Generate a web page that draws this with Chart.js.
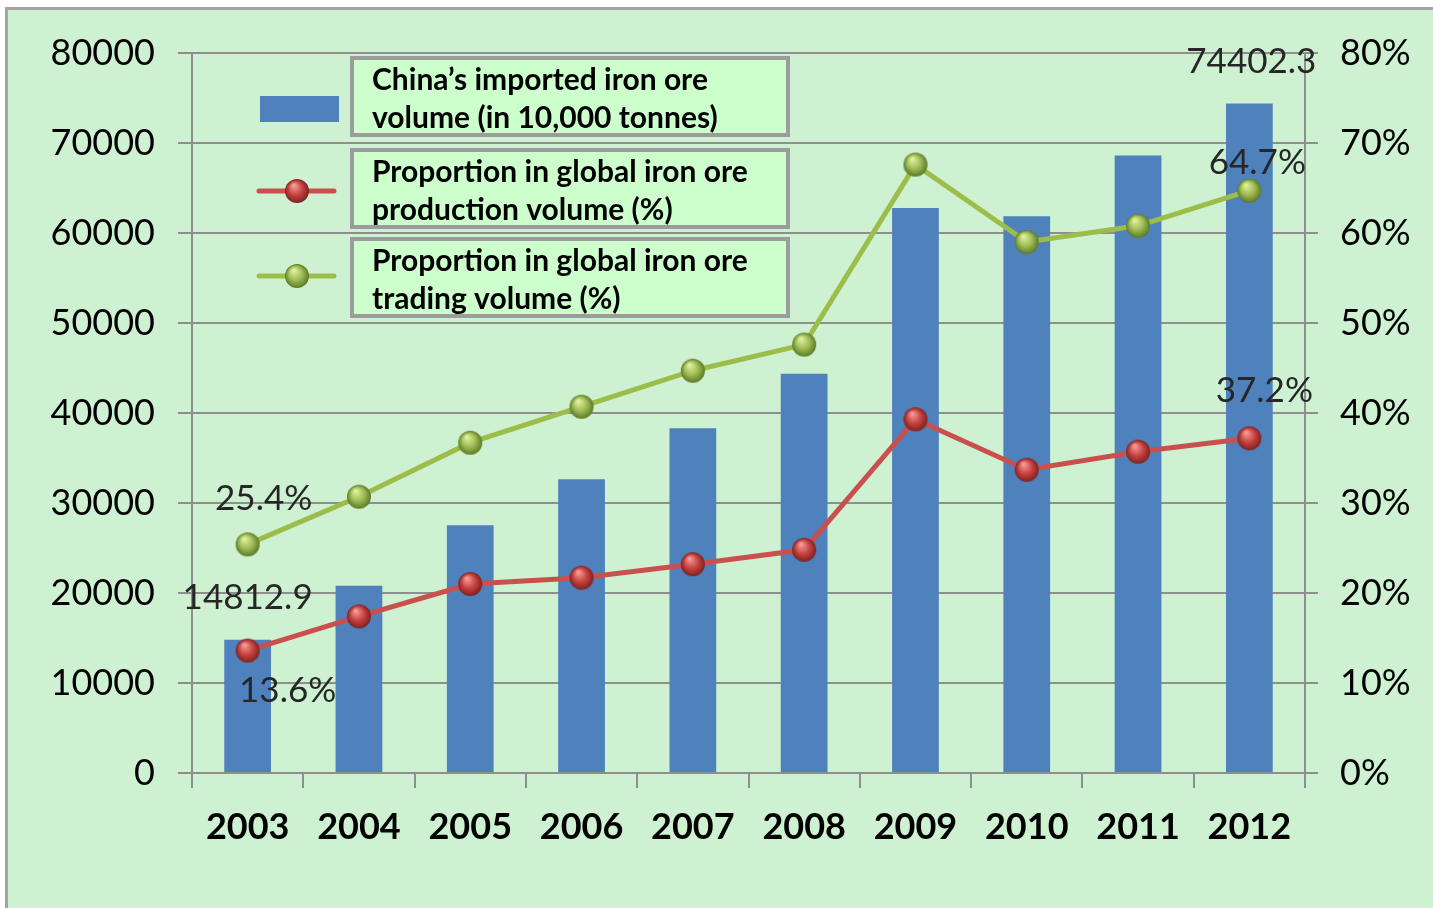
<!DOCTYPE html>
<html>
<head>
<meta charset="utf-8">
<title>China iron ore imports</title>
<script src="https://cdn.jsdelivr.net/npm/chart.js@4.4.0/dist/chart.umd.min.js"></script>
<style>
    html, body { margin: 0; padding: 0; background: #fff; overflow: hidden; }
    #frame {
        position: absolute; left: 5px; top: 7px; width: 1440px; height: 910px;
        border-left: 3px solid #a3a3a3; border-top: 3px solid #a3a3a3;
        background: #cef1d2;
    }
    #chart { position: absolute; left: 0; top: 0; }
</style>
</head>
<body>
<div id="frame"></div>
<canvas id="chart" width="1433" height="908"></canvas>
<script>
const years = ["2003", "2004", "2005", "2006", "2007", "2008", "2009", "2010", "2011", "2012"];
const importVolume = [14812.9, 20808, 27526, 32630, 38309, 44356, 62778, 61863, 68606, 74402.3];
const productionShare = [13.6, 17.4, 21.0, 21.7, 23.2, 24.8, 39.3, 33.7, 35.7, 37.2];
const tradingShare = [25.4, 30.7, 36.7, 40.7, 44.7, 47.6, 67.6, 59.0, 60.8, 64.7];
const leftTicks = [0, 10000, 20000, 30000, 40000, 50000, 60000, 70000, 80000];
const rightTicks = [0, 10, 20, 30, 40, 50, 60, 70, 80];

const legendLabels = [
    ["China\u2019s imported iron ore", "volume (in 10,000 tonnes)"],
    ["Proportion in global iron ore", "production volume (%)"],
    ["Proportion in global iron ore", "trading volume (%)"]
];

const gridGray = "#8e8e8e";
const font = "Lato";

// little shaded ball used as point marker
function sphere(light, mid, dark, r) {
    const c = document.createElement("canvas");
    c.width = c.height = r * 2 + 2;
    const g = c.getContext("2d");
    const grad = g.createRadialGradient(r * 0.8, r * 0.6, 1, r + 1, r + 1, r);
    grad.addColorStop(0, light);
    grad.addColorStop(0.55, mid);
    grad.addColorStop(1, dark);
    g.fillStyle = grad;
    g.beginPath();
    g.arc(r + 1, r + 1, r, 0, Math.PI * 2);
    g.fill();
    return c;
}
const redBall = sphere("#f29a97", "#c8423f", "#7c2321", 12);
const greenBall = sphere("#dff09a", "#9dbb55", "#5c7a26", 12);

// which points get value labels, and where they sit relative to the point
const labelSpots = [
    { ds: 0, i: 0, dx: 0, dy: -42, text: v => v.toFixed(1) },
    { ds: 0, i: 9, dx: 2, dy: -42, text: v => v.toFixed(1) },
    { ds: 1, i: 0, dx: 40, dy: 40, text: v => v.toFixed(1) + "%" },
    { ds: 1, i: 9, dx: 15, dy: -47, text: v => v.toFixed(1) + "%" },
    { ds: 2, i: 0, dx: 16, dy: -46, text: v => v.toFixed(1) + "%" },
    { ds: 2, i: 9, dx: 8, dy: -28, text: v => v.toFixed(1) + "%" }
];

const valueLabels = {
    id: "valueLabels",
    afterDatasetsDraw(chart) {
        const ctx = chart.ctx;
        ctx.save();
        ctx.font = "35px " + font;
        ctx.fillStyle = "#262626";
        ctx.textAlign = "center";
        ctx.textBaseline = "middle";
        labelSpots.forEach(s => {
            const el = chart.getDatasetMeta(s.ds).data[s.i];
            const v = chart.data.datasets[s.ds].data[s.i];
            ctx.fillText(s.text(v), el.x + s.dx, el.y + s.dy);
        });
        ctx.restore();
    }
};

const boxedLegend = {
    id: "boxedLegend",
    afterDraw(chart) {
        const ctx = chart.ctx;
        const rows = [58, 150, 239];
        const markerY = [109, 191, 276];
        ctx.save();
        chart.data.datasets.forEach((ds, k) => {
            const top = rows[k];
            ctx.fillStyle = "#ccffcc";
            ctx.strokeStyle = "#9c9c9c";
            ctx.lineWidth = 4;
            ctx.fillRect(352, top, 436, 77);
            ctx.strokeRect(352, top, 436, 77);
            const my = markerY[k];
            if (ds.type === "bar") {
                ctx.fillStyle = ds.backgroundColor;
                ctx.fillRect(260, my - 13, 79, 26);
            } else {
                ctx.strokeStyle = ds.borderColor;
                ctx.lineWidth = 5;
                ctx.lineCap = "round";
                ctx.beginPath();
                ctx.moveTo(259, my);
                ctx.lineTo(334, my);
                ctx.stroke();
                ctx.drawImage(ds.pointStyle, 297 - 13, my - 13);
            }
            ctx.fillStyle = "#000";
            ctx.font = "bold 30px " + font;
            ctx.textAlign = "left";
            ctx.textBaseline = "middle";
            legendLabels[k].forEach((line, j) => {
                ctx.fillText(line, 372, top + 22 + j * 38);
            });
        });
        ctx.restore();
    }
};

new Chart(document.getElementById("chart"), {
    data: {
        labels: years,
        datasets: [
            {
                type: "bar",
                label: legendLabels[0].join(" "),
                data: importVolume,
                backgroundColor: "#4f81bd",
                yAxisID: "y",
                barPercentage: 0.42,
                categoryPercentage: 1,
                order: 3
            },
            {
                type: "line",
                label: legendLabels[1].join(" "),
                data: productionShare,
                borderColor: "#c9504c",
                borderWidth: 5,
                pointStyle: redBall,
                yAxisID: "y1",
                order: 1
            },
            {
                type: "line",
                label: legendLabels[2].join(" "),
                data: tradingShare,
                borderColor: "#9dbd4a",
                borderWidth: 5,
                pointStyle: greenBall,
                yAxisID: "y1",
                order: 2
            }
        ]
    },
    options: {
        responsive: false,
        animation: false,
        layout: { padding: { top: 53, left: 0, right: 0, bottom: 0 } },
        plugins: {
            legend: { display: false },
            tooltip: { enabled: false }
        },
        scales: {
            x: {
                offset: true,
                afterFit: s => { s.height = 135; },
                grid: { offset: true, drawOnChartArea: false, color: gridGray, lineWidth: 2, tickLength: 15 },
                border: { color: gridGray, width: 2 },
                ticks: { color: "#000", padding: 18, font: { family: font, size: 36, weight: "bold" } }
            },
            y: {
                position: "left",
                min: 0,
                max: 80000,
                afterFit: s => { s.width = 192; },
                afterBuildTicks: s => { s.ticks = leftTicks.map(v => ({ value: v })); },
                grid: { color: gridGray, lineWidth: 2, tickLength: 14 },
                border: { color: gridGray, width: 2 },
                ticks: { color: "#000", padding: 23, font: { family: font, size: 36 }, callback: v => String(v) }
            },
            y1: {
                position: "right",
                min: 0,
                max: 80,
                afterFit: s => { s.width = 128; },
                afterBuildTicks: s => { s.ticks = rightTicks.map(v => ({ value: v })); },
                grid: { drawOnChartArea: false, color: gridGray, lineWidth: 2, tickLength: 13 },
                border: { color: gridGray, width: 2 },
                ticks: { color: "#000", padding: 22, font: { family: font, size: 36 }, callback: v => v + "%" }
            }
        }
    },
    plugins: [valueLabels, boxedLegend]
});
</script>
</body>
</html>
